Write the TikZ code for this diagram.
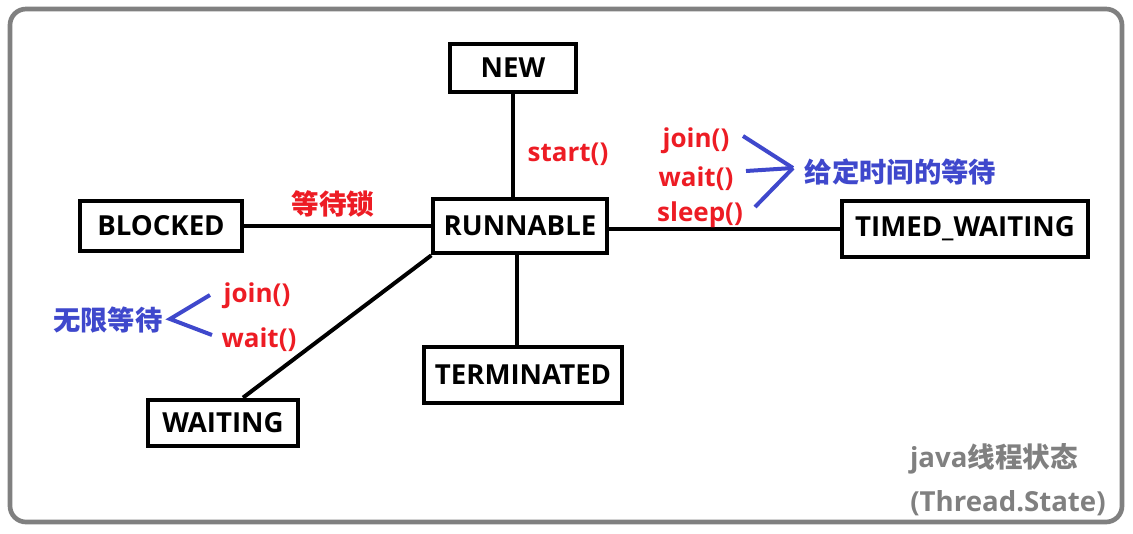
\documentclass[tikz,border=0pt]{standalone}
\usepackage{fontspec}
\setmainfont{Open Sans}
\newfontfamily\cjk{Noto Sans CJK SC Bold}
\definecolor{callred}{RGB}{237,28,36}
\definecolor{noteblue}{RGB}{63,72,204}
\definecolor{framegray}{RGB}{128,128,128}
\tikzset{
    state/.style={draw, line width=3pt, inner sep=0pt, font=\bfseries\fontsize{20.7}{24}\selectfont},
    call/.style={text=callred, font=\bfseries\fontsize{19.5}{23}\selectfont},
    note/.style={text=noteblue, font=\bfseries\cjk\fontsize{20.5}{24}\selectfont},
    link/.style={line width=3pt},
    brace/.style={noteblue, line width=3pt}
}
\begin{document}
\begin{tikzpicture}[x=0.75pt, y=-0.75pt]
        \useasboundingbox (0,0) rectangle (1133,533);
        \draw[framegray, line width=3.5pt, rounded corners=12pt] (10,9) rectangle (1122,522);

        \node[state, minimum width=95pt, minimum height=36pt] (new) at (513,68) {NEW};
        \node[state, minimum width=130pt, minimum height=41pt] (run) at (520,226) {RUNNABLE};
        \node[state, minimum width=122pt, minimum height=38pt] (blocked) at (161,226) {BLOCKED};
        \node[state, minimum width=184pt, minimum height=42pt] (timed) at (965,229) {TIMED\_WAITING};
        \node[state, minimum width=149pt, minimum height=42pt] (term) at (523,375) {TERMINATED};
        \node[state, minimum width=112pt, minimum height=35pt] (wait) at (223,423) {WAITING};

        \draw[link] (new.south) -- (new.south |- run.north);
        \draw[link] (blocked.east) -- (blocked.east -| run.west);
        \draw[link] (run.east |- timed.west) -- (timed.west);
        \draw[link] ([xshift=-4.5pt]term.north |- run.south) -- ([xshift=-4.5pt]term.north);
        \draw[link] (run.south west) -- ([xshift=15pt]wait.north);

        \node[call] (start) at (568,154) {start()};
        \node[call, font=\bfseries\cjk\fontsize{20.7}{24}\selectfont] (lock) at (333,204) {等待锁};
        \node[call] (tjoin) at (696,141) {join()};
        \node[call] (twait) at (696,179) {wait()};
        \node[call] (tsleep) at (700,215) {sleep()};
        \node[note, anchor=west] (timednote) at (800,172) {给定时间的等待};
        \coordinate (ttip) at (793,168);
        \draw[brace] (743,136) -- (ttip);
        \draw[brace] (746,171) -- (ttip);
        \draw[brace] (755,207) -- (ttip);

        \node[call] (wjoin) at (257,296) {join()};
        \node[call] (wwait) at (259,340) {wait()};
        \node[note] (waitnote) at (108,320) {无限等待};
        \coordinate (wtip) at (170,319);
        \draw[brace] (210,295) -- (wtip) -- (212,335);

        \node[text=framegray, font=\bfseries\fontsize{20.7}{24}\selectfont] (title) at (994,459) {java{\cjk 线程状态}};
        \node[text=framegray, font=\bfseries\fontsize{20.7}{24}\selectfont] (subtitle) at (1008,503) {(Thread.State)};
\end{tikzpicture}
\end{document}
